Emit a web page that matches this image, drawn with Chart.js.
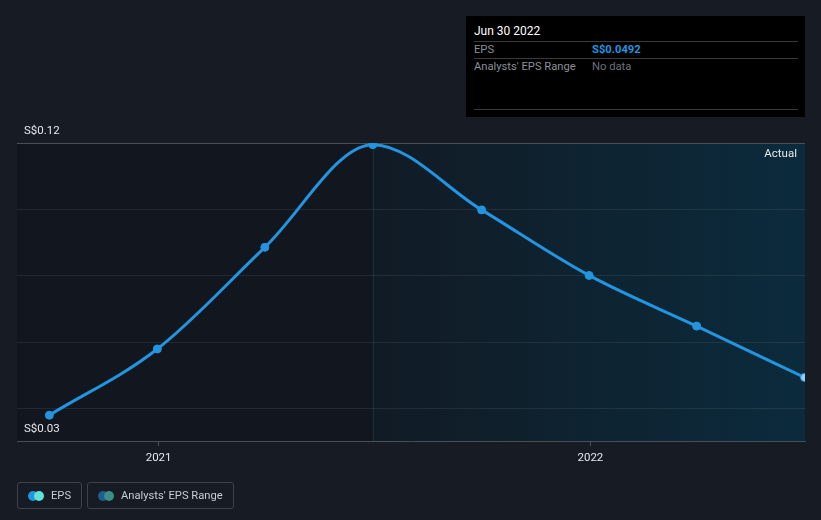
<!DOCTYPE html>
<html><head><meta charset="utf-8">
<script src="https://cdn.jsdelivr.net/npm/chart.js@4/dist/chart.umd.min.js"></script>
<style>
html,body{margin:0;padding:0;background:#161b24;width:821px;height:520px;overflow:hidden;font-family:Roboto,"Open Sans",sans-serif;}
#wrap{position:relative;width:821px;height:520px;}
canvas{position:absolute;left:0;top:0;}
#tip{position:absolute;left:466px;top:16px;width:339px;height:101px;background:#000;color:#fff;font-size:11.2px;}
#tip .t{position:absolute;left:8px;top:8px;color:#fff;font-size:12px;}
#tip .ln{position:absolute;left:8px;width:324px;height:1px;background:#3a3a3a;}
#tip .k{position:absolute;left:8px;color:#8a8f96;}
#tip .v{position:absolute;left:126px;}
.lg{position:absolute;top:482px;height:27px;border:1px solid #3b424d;border-radius:3px;color:#c9ccd1;font-size:11.2px;line-height:27px;box-sizing:border-box;}
.dot{position:absolute;top:8px;width:10px;height:10px;border-radius:50%;}
</style></head>
<body><div id="wrap">
<canvas id="c" width="821" height="520"></canvas>
<div id="tip">
  <div class="t">Jun 30 2022</div>
  <div class="ln" style="top:25px"></div>
  <div class="k" style="top:27px">EPS</div><div class="v" style="top:27px;color:#2394df;font-weight:bold">S$0.0492</div>
  <div class="ln" style="top:42px"></div>
  <div class="k" style="top:44px">Analysts' EPS Range</div><div class="v" style="top:44px;color:#6b7077">No data</div>
  <div class="ln" style="top:93px"></div>
</div>
<div class="lg" style="left:17px;width:65px;">
  <span class="dot" style="left:10px;background:#2394df"></span><span class="dot" style="left:16px;background:#5fe3d6"></span>
  <span style="position:absolute;left:33px;top:-1px">EPS</span>
</div>
<div class="lg" style="left:87px;width:147px;">
  <span class="dot" style="left:10px;background:#1f5f8f"></span><span class="dot" style="left:16px;background:#3f8d88"></span>
  <span style="position:absolute;left:33px;top:-1px">Analysts' EPS Range</span>
</div>
</div>
<script>
const dates = [2020.747, 2020.997, 2021.246, 2021.496, 2021.748, 2021.997, 2022.246, 2022.496];
const eps = [0.0378, 0.0578, 0.0885, 0.1195, 0.0998, 0.0800, 0.0647, 0.0492];
const yTicks = [0.03, 0.04, 0.06, 0.08, 0.10, 0.12];
const yLabels = {"0.12":"S$0.12","0.03":"S$0.03"};
const xTicks = [2021, 2022];
const xMin = 2020.672, xMax = 2022.497;
const yMin = 0.03, yMax = 0.12;
const splitDate = 2021.496;

const regions = {
  id:'regions',
  beforeDraw(chart){
    const {ctx, chartArea:a, scales:{x}} = chart;
    const sx = x.getPixelForValue(splitDate);
    ctx.save();
    ctx.fillStyle = '#12161e';
    ctx.fillRect(a.left, a.top, sx - a.left, a.bottom - a.top);
    const g = ctx.createLinearGradient(sx,0,a.right,0);
    g.addColorStop(0,'#111b25');
    g.addColorStop(1,'#0b2b3c');
    ctx.fillStyle = g;
    ctx.fillRect(sx, a.top, a.right - sx, a.bottom - a.top);
    ctx.strokeStyle = '#18303f'; ctx.lineWidth = 1;
    ctx.beginPath(); ctx.moveTo(Math.round(sx)+0.5, a.top); ctx.lineTo(Math.round(sx)+0.5, a.bottom); ctx.stroke();
    const y = chart.scales.y;
    yTicks.forEach(v=>{
      const py = Math.round(y.getPixelForValue(v))+0.5;
      if (v===yMin) return;
      ctx.strokeStyle = v===yMax ? '#4a4f57' : 'rgba(255,255,255,0.08)';
      ctx.beginPath(); ctx.moveTo(a.left, py); ctx.lineTo(a.right, py); ctx.stroke();
    });
    ctx.fillStyle = '#e6e8eb';
    ctx.font = '11.5px Roboto';
    ctx.textAlign = 'right'; ctx.textBaseline='middle';
    ctx.fillText('Actual', a.right - 8, a.top + 11);
    ctx.restore();
  }
};

new Chart(document.getElementById('c'), {
  type:'line',
  data:{ datasets:[{
    label:'EPS',
    data: dates.map((d,i)=>({x:d,y:eps[i]})),
    borderColor:'#2394df', borderWidth:3,
    pointRadius:4, pointHoverRadius:4,
    pointBackgroundColor: dates.map((d,i)=> i===dates.length-1 ? '#8fd0f5' : '#2394df'),
    pointBorderColor:'#2394df', pointBorderWidth:1,
    cubicInterpolationMode:'monotone', fill:false
  }]},
  options:{
    responsive:false, animation:false,
    layout:{padding:{left:17,right:16,top:143,bottom:0}},
    plugins:{legend:{display:false},tooltip:{enabled:false}},
    scales:{
      x:{type:'linear', min:xMin, max:xMax,
        afterBuildTicks(s){ s.ticks = xTicks.map(v=>({value:v})); },
        afterFit(s){ s.height = 79; },
        grid:{drawOnChartArea:false, drawTicks:true, tickLength:5, color:'#4a4f57'},
        border:{color:'#4a4f57'},
        ticks:{color:'#e6e8eb', font:{family:'Roboto', size:11.5}, padding:5, callback:v=>String(v), maxRotation:0}
      },
      y:{min:yMin, max:yMax,
        afterBuildTicks(s){ s.ticks = yTicks.map(v=>({value:v})); },
        afterFit(s){ s.width = 0; },
        grid:{display:false, drawTicks:false},
        border:{display:false},
        ticks:{mirror:true, padding:7, labelOffset:-12, color:'#e6e8eb', font:{family:'Roboto', size:11.5},
          callback:v=> yLabels[v.toFixed(2)] || ''}
      }
    }
  },
  plugins:[regions]
});
</script>
</body></html>
